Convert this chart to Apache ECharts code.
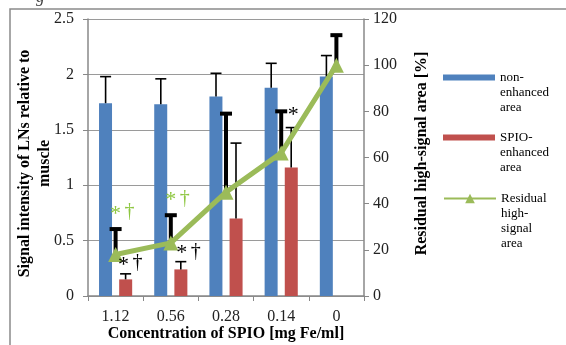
<!DOCTYPE html>
<html>
<head>
<meta charset="utf-8">
<script src="https://cdn.jsdelivr.net/npm/echarts@6/dist/echarts.min.js"></script>
<style>
  html, body { margin: 0; padding: 0; background: #fff; }
  #chart { width: 566px; height: 345px; }
</style>
</head>
<body>
<div id="chart"></div>
<script>
// data
var categories = ['1.12', '0.56', '0.28', '0.14', '0'];
var nonEnhanced = [1.74, 1.73, 1.80, 1.88, 1.98];
var nonEnhancedErr = [1.98, 1.96, 2.01, 2.10, 2.17];
var spioEnhanced = [0.15, 0.24, 0.70, 1.16, null];
var spioEnhancedErr = [0.20, 0.31, 1.38, 1.52, null];
var residual = [18, 23, 45, 62, 100];
var residualErr = [29, 35, 79, 80, 113];

// significance marks: category index, left-axis value, text, colour
var annoCat = [0, 1, 0, 1, 3];
var annoY = [0.76, 0.88, 0.30, 0.40, 1.65];
var annoText = ['*†', '*†', '*†', '*†', '*'];
var annoColor = ['#8DC63F', '#8DC63F', '#000', '#000', '#000'];
var annoDx = [7, 7, 15, 18, 12];

var BLUE = '#4F81BD', RED = '#C0504D', GREEN = '#9BBB59';
var SERIF = '"Liberation Serif", "DejaVu Serif", serif';
var BAR_OFFSET = 10;

function errBars(offset, lw, capW) {
    return function (params, api) {
        var p0 = api.coord([api.value(0), api.value(1)]);
        var p1 = api.coord([api.value(0), api.value(2)]);
        var cx = p0[0] + offset;
        var st = { stroke: '#000', lineWidth: lw };
        return {
            type: 'group',
            children: [
                { type: 'line', shape: { x1: cx, y1: p0[1], x2: cx, y2: p1[1] }, style: st },
                { type: 'line', shape: { x1: cx - capW / 2, y1: p1[1], x2: cx + capW / 2, y2: p1[1] }, style: st }
            ]
        };
    };
}

function errData(lo, hi) {
    return lo.map(function (v, i) { return v == null ? [i, '-', '-'] : [i, v, hi[i]]; });
}

// legend text: pad with empty lines so the first line sits level with the icon
function legendItem(left, top, name, icon, h, blank) {
    return {
        left: left, top: top, padding: 0, itemWidth: 52, itemHeight: h, icon: icon,
        data: [name],
        formatter: function (n) { return blank + n; },
        textStyle: { fontFamily: SERIF, fontSize: 13, lineHeight: 15, color: '#000' },
        selectedMode: false
    };
}

var chart = echarts.init(document.getElementById('chart'));
chart.setOption({
    animation: false,
    textStyle: { fontFamily: SERIF },
    grid: { left: 88, right: 202, top: 19, bottom: 49, outerBoundsMode: 'none', containLabel: false },
    legend: [
        legendItem(443, 40, 'non-\nenhanced\narea', 'rect', 6, '\n\n'),
        legendItem(443, 100, 'SPIO-\nenhanced\narea', 'rect', 6, '\n\n'),
        legendItem(443, 146, 'Residual\nhigh-\nsignal\narea', undefined, 12, '\n\n\n')
    ],
    xAxis: {
        type: 'category',
        data: categories,
        name: 'Concentration of SPIO [mg Fe/ml]',
        nameLocation: 'middle',
        nameGap: 30,
        nameMoveOverlap: false,
        nameTextStyle: { fontFamily: SERIF, fontWeight: 'bold', fontSize: 16, color: '#000' },
        axisLine: { lineStyle: { color: '#888', width: 1.5 } },
        axisTick: { show: true, length: 5, lineStyle: { color: '#888' } },
        axisLabel: { fontFamily: SERIF, fontSize: 16, color: '#222', margin: 13 }
    },
    yAxis: [
        {
            type: 'value', min: 0, max: 2.5, interval: 0.5,
            name: 'Signal intensity of LNs relative to\nmuscle',
            nameLocation: 'middle',
            nameGap: 33,
            nameMoveOverlap: false,
            nameRotate: 90,
            nameTextStyle: { fontFamily: SERIF, fontWeight: 'bold', fontSize: 16, lineHeight: 20, color: '#000', padding: [0, 12, 0, 0] },
            axisLine: { show: true, lineStyle: { color: '#888', width: 1.5 } },
            axisTick: { show: true, length: 5, lineStyle: { color: '#888' } },
            splitLine: { lineStyle: { color: '#9a9a9a', width: 1.2 } },
            axisLabel: { fontFamily: SERIF, fontSize: 16, color: '#222', margin: 14 }
        },
        {
            type: 'value', min: 0, max: 120, interval: 20,
            name: 'Residual high-signal area [%]',
            nameLocation: 'middle',
            nameGap: 50,
            nameMoveOverlap: false,
            nameRotate: 90,
            nameTextStyle: { fontFamily: SERIF, fontWeight: 'bold', fontSize: 16, color: '#000', padding: [0, 0, 0, 8] },
            axisLine: { show: true, lineStyle: { color: '#888', width: 1.5 } },
            axisTick: { show: true, length: 5, lineStyle: { color: '#888' } },
            splitLine: { show: false },
            axisLabel: { fontFamily: SERIF, fontSize: 16, color: '#222', margin: 9 }
        }
    ],
    graphic: [
        {
            type: 'rect', z: -10, silent: true,
            shape: { x: 10, y: 9, width: 600, height: 400 },
            style: { fill: 'none', stroke: '#8a8a8a', lineWidth: 1.5 }
        },
        {
            type: 'text', left: 36, top: -11,
            style: { text: 'g', font: 'italic 17px ' + SERIF, fill: '#444' }
        }
    ],
    series: [
        {
            name: 'non-\nenhanced\narea', type: 'bar', data: nonEnhanced,
            barWidth: 13, barGap: '55%', itemStyle: { color: BLUE }
        },
        {
            name: 'SPIO-\nenhanced\narea', type: 'bar', data: spioEnhanced,
            barWidth: 13, itemStyle: { color: RED }
        },
        {
            type: 'custom', renderItem: errBars(-BAR_OFFSET, 1.6, 11),
            data: errData(nonEnhanced, nonEnhancedErr), z: 3
        },
        {
            type: 'custom', renderItem: errBars(BAR_OFFSET, 1.6, 11),
            data: errData(spioEnhanced, spioEnhancedErr), z: 3
        },
        {
            type: 'custom', yAxisIndex: 1, renderItem: errBars(0, 4, 12),
            data: errData(residual, residualErr), z: 4
        },
        {
            name: 'Residual\nhigh-\nsignal\narea', type: 'line', yAxisIndex: 1, data: residual,
            symbol: 'triangle', symbolSize: 15, z: 5,
            lineStyle: { color: GREEN, width: 5 },
            itemStyle: { color: GREEN }
        },
        {
            type: 'custom', z: 6,
            data: annoCat.map(function (c, i) { return [c, annoY[i], i]; }),
            renderItem: function (params, api) {
                var i = api.value(2);
                var p = api.coord([api.value(0), api.value(1)]);
                var x = p[0] + annoDx[i];
                var chars = annoText[i].split('');
                return {
                    type: 'group',
                    children: chars.map(function (ch, k) {
                        var sx = chars.length === 1 ? x : x + (k === 0 ? -7 : 7);
                        return {
                            type: 'text', x: sx, y: ch === '*' ? p[1] + 2 : p[1],
                            style: {
                                text: ch, fill: annoColor[i],
                                font: (ch === '*' ? '22px ' : '20px ') + SERIF,
                                align: 'center', verticalAlign: 'middle'
                            }
                        };
                    })
                };
            }
        }
    ]
});
</script>
</body>
</html>
